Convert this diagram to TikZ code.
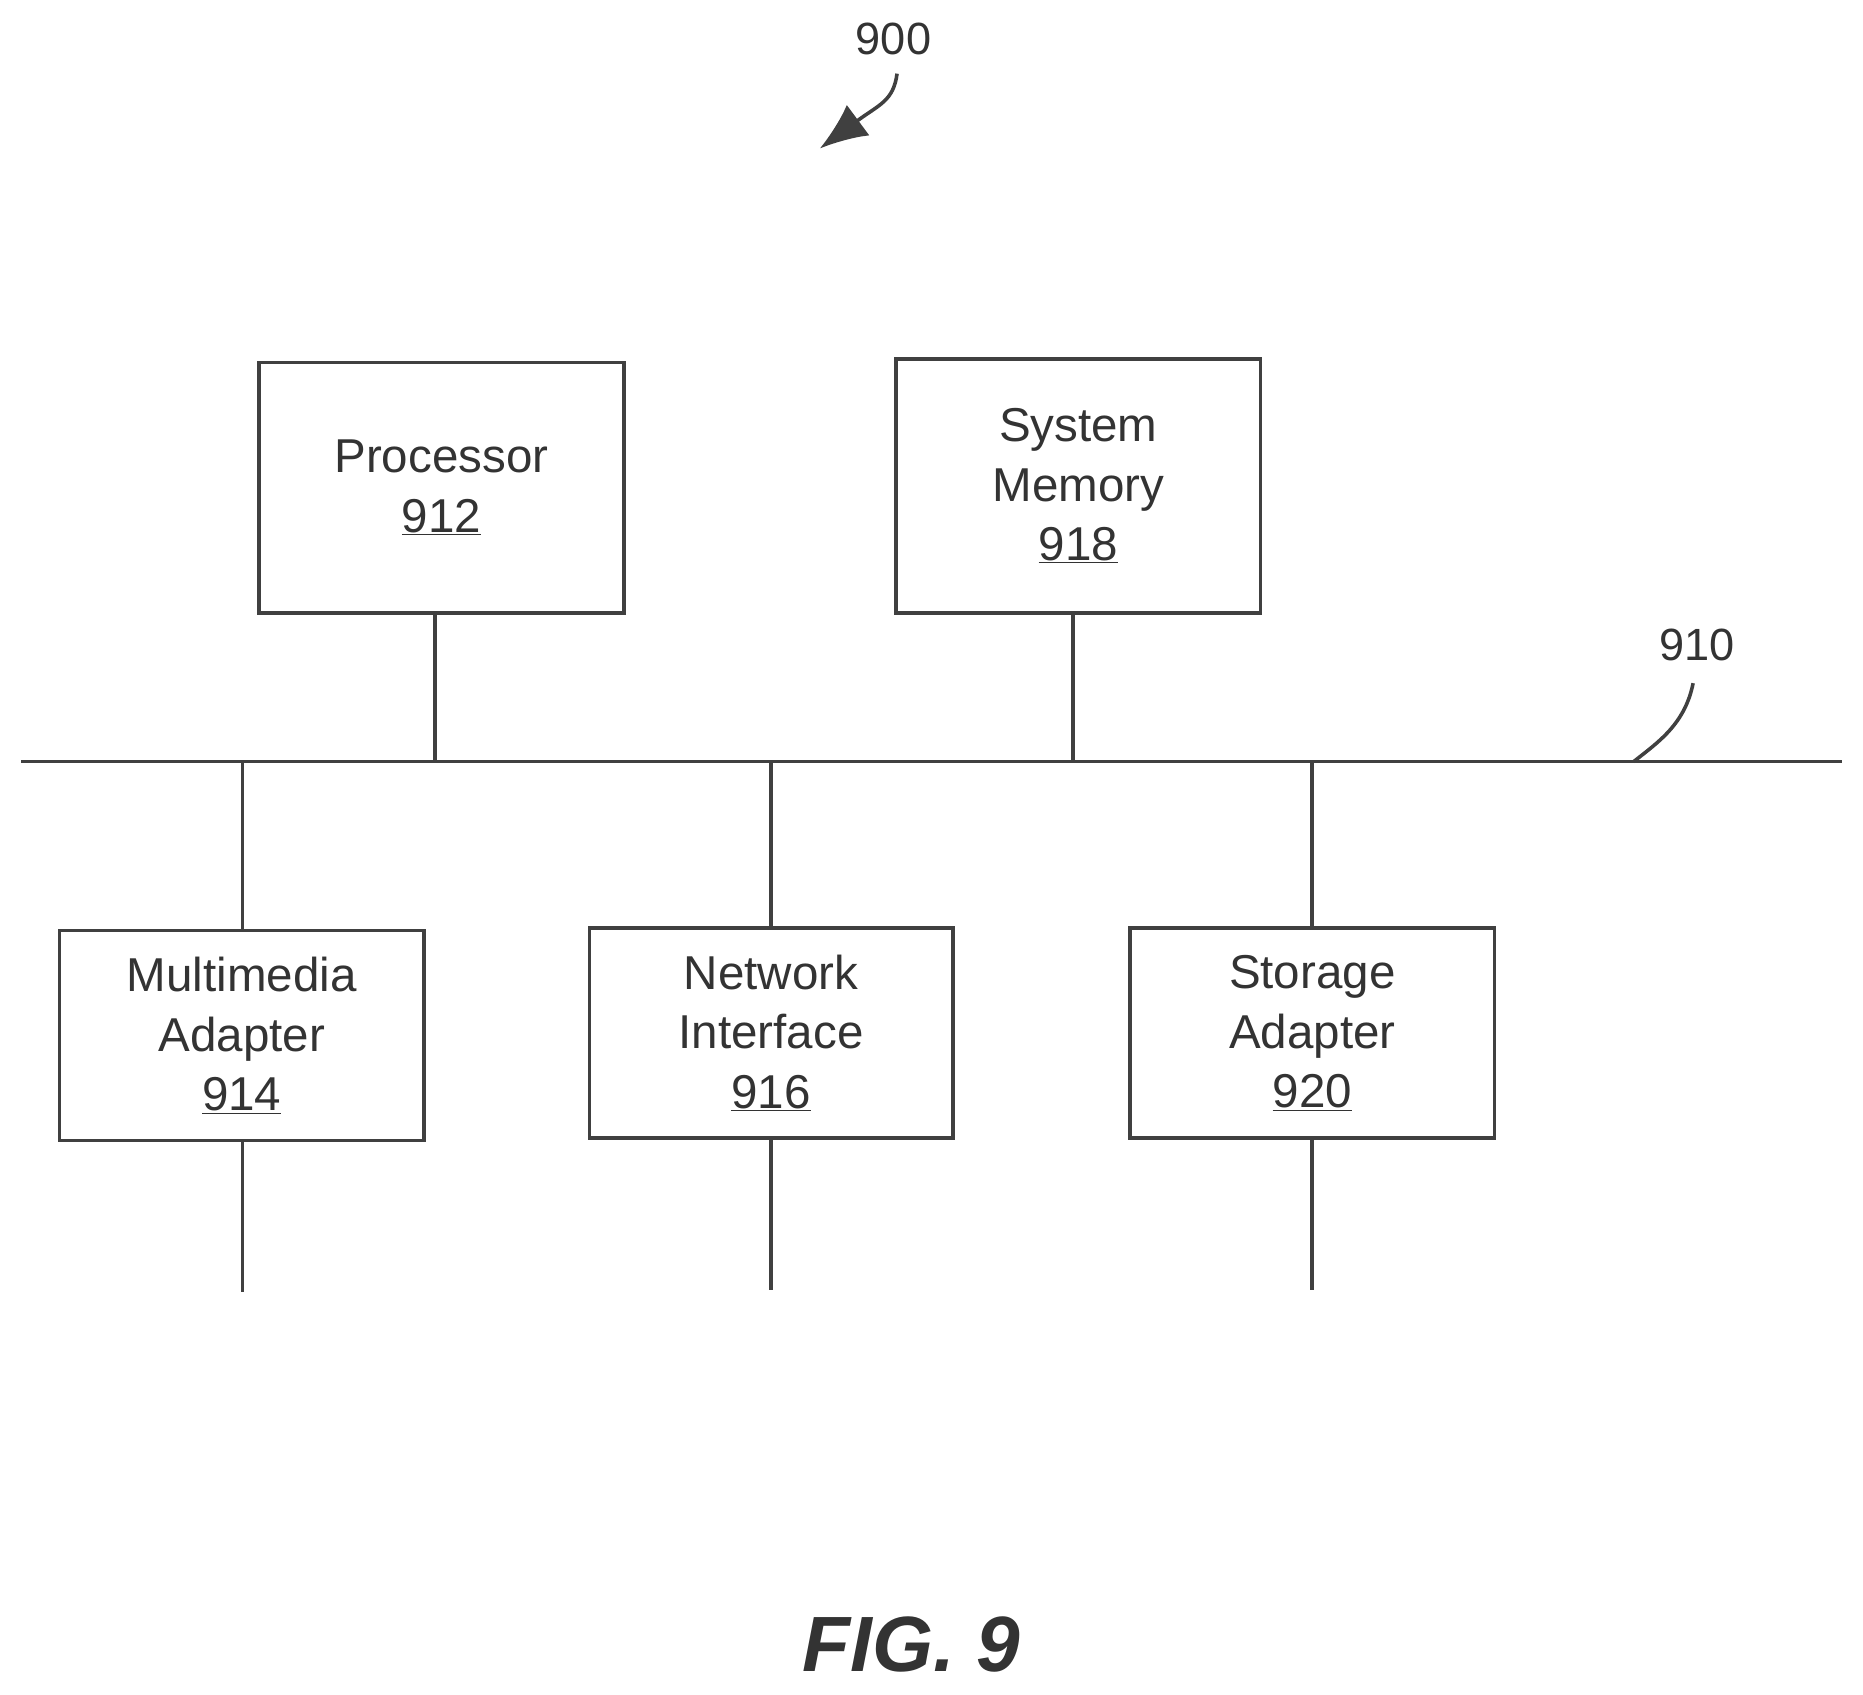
\documentclass[tikz,border=0pt]{standalone}
\usepackage{fontspec}
\setmainfont{Liberation Sans}
\usetikzlibrary{arrows.meta}
\begin{document}
\begin{tikzpicture}[x=1pt,y=-1pt,
  box/.style={draw=black!75,line width=3pt,inner sep=0pt,align=center,font=\fontsize{40}{50}\selectfont,text=black!80},
  ln/.style={draw=black!75,line width=3pt},
  lbl/.style={font=\fontsize{38}{44}\selectfont,text=black!80}]
\useasboundingbox (0,0) rectangle (1568,1426);
\node[box,minimum width=307pt,minimum height=211pt] (p) at (371.5,410.5) {Processor\\\underline{912}};
\node[box,minimum width=307pt,minimum height=214pt] (m) at (907.5,409) {System\\Memory\\\underline{918}};
\node[box,minimum width=307pt,minimum height=177pt] (mm) at (203.5,871.5) {Multimedia\\Adapter\\\underline{914}};
\node[box,minimum width=306pt,minimum height=177pt] (n) at (649,869.5) {Network\\Interface\\\underline{916}};
\node[box,minimum width=307pt,minimum height=177pt] (s) at (1104.5,869.5) {Storage\\Adapter\\\underline{920}};
\coordinate (bl) at (18,641); \coordinate (br) at (1550,641);
\draw[ln] (bl) -- (br);
\draw[ln] (p.south -| 366,0) -- (366,641);
\draw[ln] (m.south -| 903,0) -- (903,641);
\draw[ln] (204,641) -- (mm.north -| 204,0);
\draw[ln] (649,641) -- (n.north);
\draw[ln] (1104,641) -- (s.north -| 1104,0);
\draw[ln] (mm.south -| 204,0) -- (204,1087);
\draw[ln] (n.south) -- (649,1086);
\draw[ln] (s.south -| 1104,0) -- (1104,1086);
\node[lbl] (l910) at (1428,543) {910};
\coordinate (c910) at (1375,641);
\draw[ln] (1425,575) .. controls (1418,610) and (1395,625) .. (c910);
\node[lbl] (l900) at (752,33) {900};
\coordinate (c900) at (690,125);
\draw[ln,-{Latex[length=40pt,width=32pt]}] (755,62) .. controls (752,85) and (740,88) .. (c900);
\node[font=\fontsize{66}{70}\selectfont\bfseries\itshape,text=black!80] (fig) at (767,1384) {FIG. 9};
\end{tikzpicture}
\end{document}
